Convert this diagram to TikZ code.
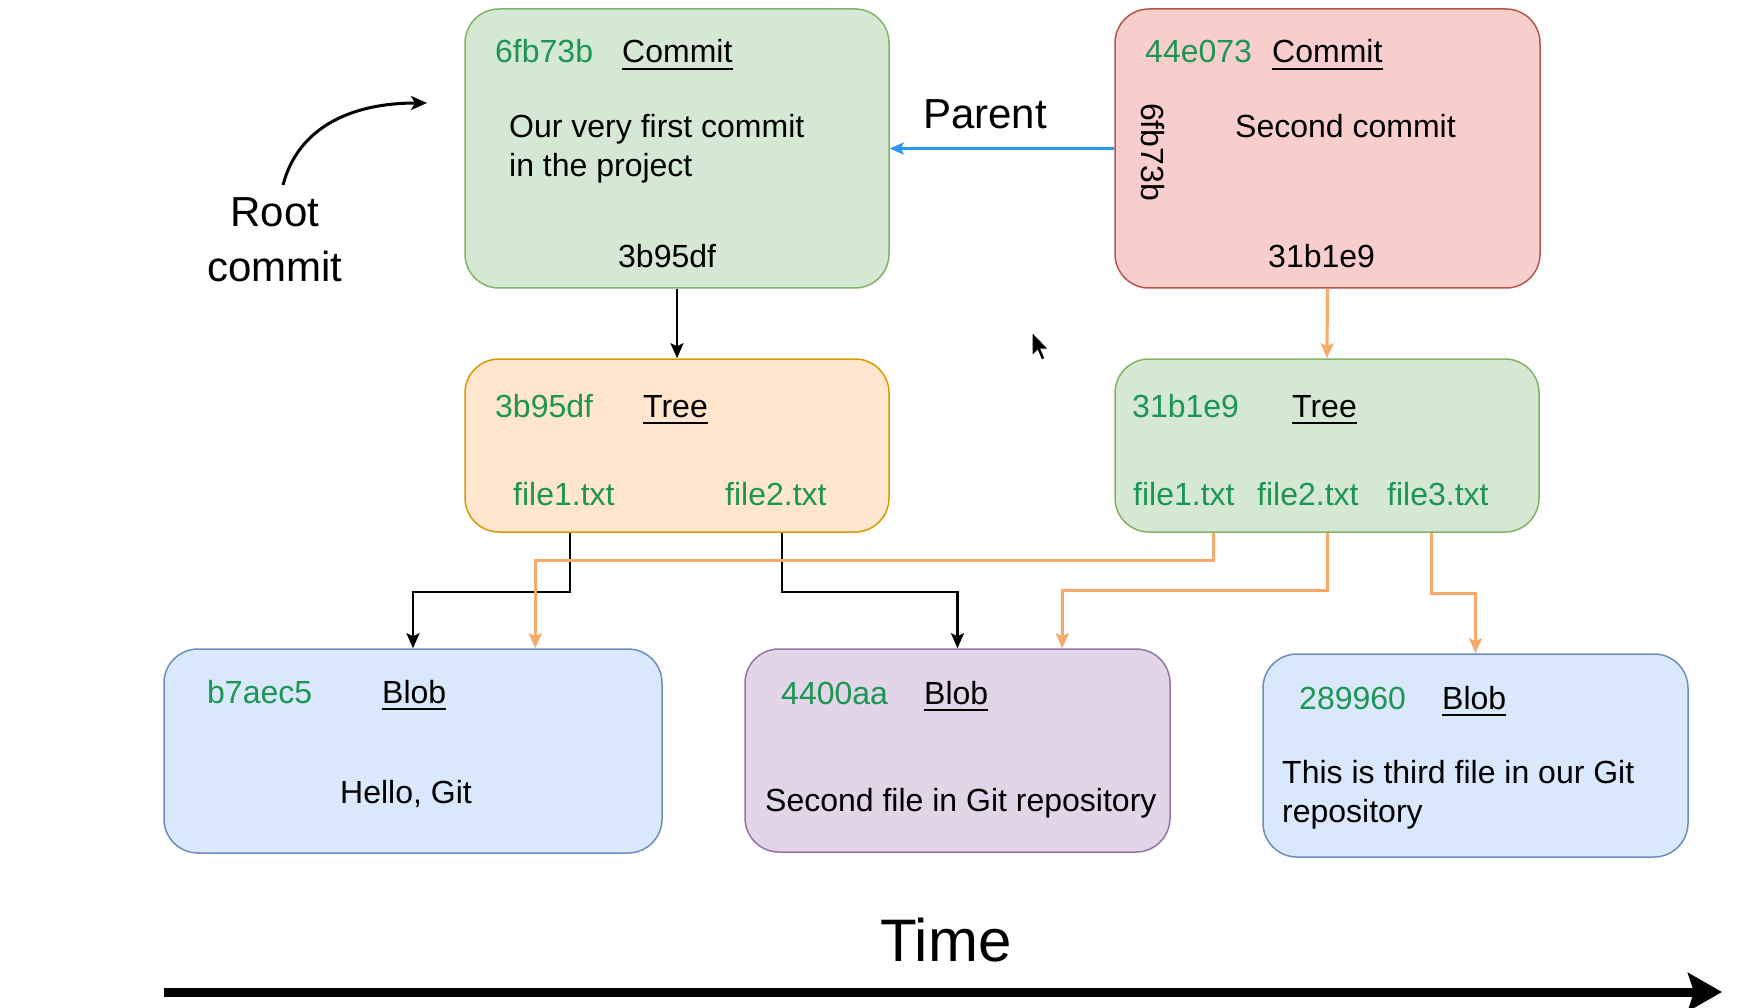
\documentclass[tikz,border=0pt]{standalone}
\usepackage{fontspec}
\setmainfont{Liberation Sans}
\usetikzlibrary{arrows.meta,calc}
\definecolor{hashgreen}{RGB}{28,150,82}
\definecolor{gfill}{HTML}{D5E8D4}\definecolor{gdraw}{HTML}{82B366}
\definecolor{rfill}{HTML}{F8CECC}\definecolor{rdraw}{HTML}{B85450}
\definecolor{ofill}{HTML}{FFE6CC}\definecolor{odraw}{HTML}{D79B00}
\definecolor{bfill}{HTML}{DAE8FC}\definecolor{bdraw}{HTML}{6C8EBF}
\definecolor{pfill}{HTML}{E1D5E7}\definecolor{pdraw}{HTML}{9673A6}
\definecolor{orangeline}{RGB}{247,170,105}
\definecolor{blueline}{RGB}{45,150,240}
\tikzset{
  box/.style={draw, rounded corners=34pt, line width=1.5pt, inner sep=0pt},
  txt/.style={inner sep=0pt, anchor=base west, font=\fontsize{32}{38}\selectfont},
  hash/.style={txt, text=hashgreen},
  big/.style={inner sep=0pt, anchor=base, font=\fontsize{42}{50}\selectfont},
  blk/.style={draw=black, line width=2.4pt, -{Stealth[length=15pt,width=13pt,inset=3pt]}},
  org/.style={draw=orangeline, line width=3pt, -{Stealth[length=15pt,width=13pt,inset=3pt]}},
  blu/.style={draw=blueline, line width=2.5pt, -{Stealth[length=14pt,width=12pt,inset=3pt]}},
  ul/.style={line width=2pt},
}
\newcommand{\uline}[1]{\draw[ul] ([yshift=-6pt]#1.base west) -- ([yshift=-6pt]#1.base east);}
\begin{document}
\begin{tikzpicture}[x=1pt,y=-1pt]
\useasboundingbox (0,0) rectangle (1753,1008);
\fill[white] (0,0) rectangle (1753,1008);

% boxes
\node[box, fill=gfill, draw=gdraw, minimum width=424pt, minimum height=279pt] (c1) at (677,148.5) {};
\node[box, fill=rfill, draw=rdraw, minimum width=425pt, minimum height=279pt] (c2) at (1327.5,148.5) {};
\node[box, fill=ofill, draw=odraw, minimum width=424pt, minimum height=173pt] (t1) at (677,445.5) {};
\node[box, fill=gfill, draw=gdraw, minimum width=424pt, minimum height=173pt] (t2) at (1327,445.5) {};
\node[box, fill=bfill, draw=bdraw, minimum width=498pt, minimum height=204pt] (b1) at (413,751) {};
\node[box, fill=pfill, draw=pdraw, minimum width=425pt, minimum height=203pt] (b2) at (957.5,750.5) {};
\node[box, fill=bfill, draw=bdraw, minimum width=425pt, minimum height=203pt] (b3) at (1475.5,755.5) {};

% commit 1
\node[hash] (c1h) at (495,63) {6fb73b};
\node[txt] (c1k) at (622,63) {Commit}; \uline{c1k}
\node[txt] (c1m1) at (509,138) {Our very first commit};
\node[txt] (c1m2) at (509,177) {in the project};
\node[txt] (c1t) at (618,268) {3b95df};

% commit 2
\node[hash] (c2h) at (1145,63) {44e073};
\node[txt] (c2k) at (1272,63) {Commit}; \uline{c2k}
\node[txt] (c2m) at (1235,138) {Second commit};
\node[inner sep=0pt, rotate=-90, font=\fontsize{32}{38}\selectfont] (c2p) at (1153,152) {6fb73b};
\node[txt] (c2t) at (1268,268) {31b1e9};

% tree 1
\node[hash] (t1h) at (495,417) {3b95df};
\node[txt] (t1k) at (643,417) {Tree}; \uline{t1k}
\node[hash] (t1f1) at (513,505) {file1.txt};
\node[hash] (t1f2) at (725,505) {file2.txt};

% tree 2
\node[hash] (t2h) at (1132,417) {31b1e9};
\node[txt] (t2k) at (1292,417) {Tree}; \uline{t2k}
\node[hash] (t2f1) at (1133,505) {file1.txt};
\node[hash] (t2f2) at (1257,505) {file2.txt};
\node[hash] (t2f3) at (1387,505) {file3.txt};

% blobs
\node[hash] (b1h) at (207,703) {b7aec5};
\node[txt] (b1k) at (382,703) {Blob}; \uline{b1k}
\node[txt] (b1m) at (340,803) {Hello, Git};

\node[hash] (b2h) at (781,704) {4400aa};
\node[txt] (b2k) at (924,704) {Blob}; \uline{b2k}
\node[txt] (b2m) at (765,811) {Second file in Git repository};

\node[hash] (b3h) at (1299,709) {289960};
\node[txt] (b3k) at (1442,709) {Blob}; \uline{b3k}
\node[txt] (b3m1) at (1282,783) {This is third file in our Git};
\node[txt] (b3m2) at (1282,822) {repository};

% labels
\node[inner sep=0pt, anchor=base west, font=\fontsize{42}{50}\selectfont] (par) at (923,129) {Parent};
\node[big] (root1) at (275,227) {Root};
\node[big] (root2) at (275,282) {commit};
\node[inner sep=0pt, anchor=base, font=\fontsize{60}{70}\selectfont] (time) at (946,961) {Time};

% connectors
\draw[blu] (c2.west) -- (c1.east);
\draw[blk] (c1.south) -- (t1.north);
\draw[org] (c2.south) -- (t2.north);
\draw[blk] ([xshift=106pt]t1.south west) -- ++(0,59) -| (b1.north);
\draw[blk] ([xshift=318pt]t1.south west) -- ++(0,59) -| (b2.north);
\draw[org] ([xshift=99pt]t2.south west) -- ++(0,28) -| ([xshift=372pt]b1.north west);
\draw[org] (t2.south) -- ++(0,58) -| ([xshift=318pt]b2.north west);
\draw[org] ([xshift=317pt]t2.south west) -- ++(0,61) -| (b3.north);

% root commit arrow
\coordinate (rs) at (283,185);
\coordinate (re) at (427,103);
\draw[line width=3pt, -{Stealth[length=16pt,width=14pt,inset=4pt]}] (rs) .. controls (298,128) and (350,103) .. (re);

% time arrow
\coordinate (ts) at (164,992);
\coordinate (te) at (1722,992);
\draw[line width=9pt, -{Stealth[length=34pt,width=38pt,inset=6pt]}] (ts) -- (te);

% mouse cursor
\filldraw[fill=black, draw=white, line width=1pt]
  (1032,332) -- (1032,356) -- (1037.5,350.5) -- (1041.5,360) -- (1045,358.5) -- (1041,349) -- (1048.5,349) -- cycle;
\end{tikzpicture}
\end{document}
